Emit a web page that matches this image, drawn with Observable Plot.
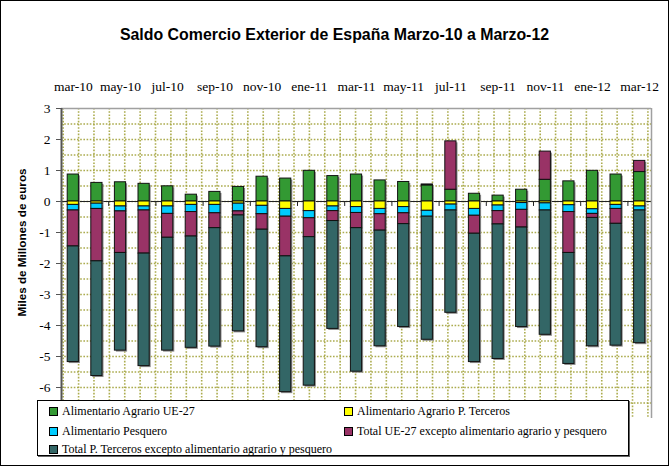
<!DOCTYPE html>
<html>
<head>
<meta charset="utf-8">
<script src="https://cdn.jsdelivr.net/npm/d3@7"></script>
<script src="https://cdn.jsdelivr.net/npm/@observablehq/plot@0.6"></script>
<style>
  html, body { margin: 0; padding: 0; background: #fff; }
  #wrap { position: relative; width: 669px; height: 466px; overflow: hidden; background: #fff; }
  #border { position: absolute; left: 0; top: 0; width: 669px; height: 466px; box-sizing: border-box; border: 1px solid #000; pointer-events: none; }
  #legend { position: absolute; left: 37px; top: 400px; width: 592px; height: 56px; box-sizing: border-box; border: 1px solid #000; background: #fff; box-shadow: 1px 1px 0 #666; font-family: "Liberation Serif", "Times New Roman", Times, "DejaVu Serif", serif; font-size: 12px; color: #000; }
  .item { position: absolute; white-space: nowrap; line-height: 12px; }
  .sw { display: inline-block; width: 7px; height: 7px; border: 1px solid #000; margin-right: 4px; vertical-align: -1px; }
</style>
</head>
<body>
<div id="wrap"></div>
<script>
// ---- Data (miles de millones de euros) ----
const months = ["mar-10","abr-10","may-10","jun-10","jul-10","ago-10","sep-10","oct-10","nov-10","dic-10","ene-11","feb-11","mar-11","abr-11","may-11","jun-11","jul-11","ago-11","sep-11","oct-11","nov-11","dic-11","ene-12","feb-12","mar-12"];
const topTicks = ["mar-10","may-10","jul-10","sep-10","nov-10","ene-11","mar-11","may-11","jul-11","sep-11","nov-11","ene-12","mar-12"];
const yTicks = [-7,-6,-5,-4,-3,-2,-1,0,1,2,3];

const seriesNames = [
  "Alimentario Agrario UE-27",
  "Alimentario Agrario P. Terceros",
  "Alimentario Pesquero",
  "Total UE-27 excepto alimentario agrario y pesquero",
  "Total P. Terceros excepto alimentario agrario y pesquero"
];
const seriesColors = ["#339933", "#ffff00", "#00ccff", "#993366", "#336666"];

const agrarioUE   = [0.87,0.60,0.62,0.57,0.49,0.22,0.31,0.47,0.80,0.74,0.99,0.82,0.87,0.68,0.63,0.52,0.38,0.25,0.19,0.38,0.70,0.65,0.99,0.87,0.95];
const agrarioPT   = [-0.11,-0.07,-0.16,-0.16,-0.16,-0.11,-0.11,-0.07,-0.14,-0.24,-0.31,-0.16,-0.18,-0.24,-0.18,-0.30,-0.10,-0.24,-0.13,-0.05,-0.06,-0.12,-0.25,-0.11,-0.16];
const pesquero    = [-0.18,-0.17,-0.16,-0.13,-0.24,-0.23,-0.27,-0.25,-0.27,-0.25,-0.23,-0.15,-0.19,-0.17,-0.20,-0.19,-0.19,-0.22,-0.18,-0.22,-0.23,-0.22,-0.15,-0.13,-0.13];
const restoUE     = [-1.16,-1.69,-1.34,-1.39,-0.77,-0.79,-0.48,-0.13,-0.50,-1.28,-0.61,-0.32,-0.49,-0.53,-0.35,0.03,1.56,-0.58,-0.43,-0.57,0.91,-1.32,-0.13,-0.48,0.36];
const restoPT     = [-3.73,-3.70,-3.15,-3.63,-3.64,-3.59,-3.82,-3.74,-3.79,-4.38,-4.79,-3.48,-4.63,-3.73,-3.32,-3.97,-3.30,-4.14,-4.34,-3.21,-4.01,-3.58,-4.14,-3.93,-4.28];

const seriesValues = [agrarioUE, agrarioPT, pesquero, restoUE, restoPT];

// long table, ordered by series so stacking follows the legend order
const table = [];
seriesValues.forEach((vals, s) => {
  vals.forEach((v, i) => table.push({month: months[i], i, series: seriesNames[s], value: v}));
});

// decorative grid positions (style only)
const hGrid = d3.range(-6.5, 3, 0.5);
const vGrid = d3.range(39).map(k => 0.072 + k * 0.652);
const zeroTicks = d3.range(2, 25, 2);
const gridColor = "#a3a33c";
const serif = "'Liberation Serif', 'Times New Roman', Times, 'DejaVu Serif', serif";
const sans = "'Liberation Sans', Arial, Helvetica, sans-serif";

const barOpts = {
  x1: d => d.i,
  x2: d => d.i + 1,
  y: "value",
  z: "series",
  insetLeft: 6.2,
  insetRight: 6.2
};

const chart = Plot.plot({
  width: 669,
  height: 466,
  marginLeft: 61,
  marginRight: 18,
  marginTop: 108,
  marginBottom: 48,
  style: {fontFamily: serif, fontSize: "13.5px", background: "#fff", color: "#000"},
  x: {type: "linear", domain: [0, 25], axis: null},
  y: {domain: [-7, 3], axis: null},
  color: {domain: seriesNames, range: seriesColors},
  marks: [
    // grid
    Plot.ruleY(hGrid, {stroke: gridColor, strokeWidth: 1.6, strokeDasharray: "1.6,1.6", strokeOpacity: 0.9}),
    Plot.ruleX(vGrid, {stroke: gridColor, strokeWidth: 1.6, strokeDasharray: "1.6,1.6", strokeOpacity: 0.9}),
    // zero line
    Plot.ruleY([0], {stroke: "#222", strokeWidth: 1}),
    // bar shadows
    Plot.rectY(table, {...barOpts, fill: "#8a8a8a", dx: 1.5, dy: 1.5}),
    // stacked bars
    Plot.rectY(table, {...barOpts, fill: "series", stroke: "#111", strokeWidth: 1}),
    // tick marks on zero line
    Plot.ruleX(zeroTicks, {y1: 0, y2: -0.16, stroke: "#222", strokeWidth: 1}),
    // frame: top & right in gray, left axis dark
    Plot.ruleY([3], {stroke: "#a0a0a0", strokeWidth: 1.5}),
    Plot.ruleX([25], {stroke: "#a0a0a0", strokeWidth: 1.5}),
    Plot.ruleX([0], {stroke: "#555", strokeWidth: 2}),
    // y axis
    Plot.axisY({ticks: yTicks, tickFormat: d => `${d}`, label: null, tickSize: 5, tickPadding: 6, stroke: "#555", fontSize: 13.5, fontFamily: serif}),
    // top month labels
    Plot.text(topTicks, {x: d => months.indexOf(d) + 0.5, frameAnchor: "top", lineAnchor: "middle", dy: -22, text: d => d, fontFamily: serif, fontSize: 13.5, fill: "#000"}),
    // title
    Plot.text(["Saldo Comercio Exterior de España Marzo-10 a Marzo-12"], {frameAnchor: "top", lineAnchor: "middle", textAnchor: "middle", dx: -22, dy: -74, text: d => d, fontFamily: sans, fontWeight: "bold", fontSize: 15.9, fill: "#000"}),
    // y title
    Plot.text(["Miles de Millones de euros"], {frameAnchor: "left", textAnchor: "middle", lineAnchor: "middle", dx: -39, dy: -21, rotate: -90, text: d => d, fontFamily: sans, fontWeight: "bold", fontSize: 11.7, fill: "#000"})
  ]
});

const wrap = document.getElementById("wrap");
wrap.appendChild(chart);

// legend
const legend = document.createElement("div");
legend.id = "legend";
const pos = [[11, 4], [306, 4], [11, 24], [306, 24], [11, 42]];
seriesNames.forEach((name, k) => {
  const it = document.createElement("div");
  it.className = "item";
  it.style.left = pos[k][0] + "px";
  it.style.top = pos[k][1] + "px";
  const sw = document.createElement("span");
  sw.className = "sw";
  sw.style.background = seriesColors[k];
  it.appendChild(sw);
  it.appendChild(document.createTextNode(name));
  legend.appendChild(it);
});
wrap.appendChild(legend);

const border = document.createElement("div");
border.id = "border";
wrap.appendChild(border);
</script>
</body>
</html>
